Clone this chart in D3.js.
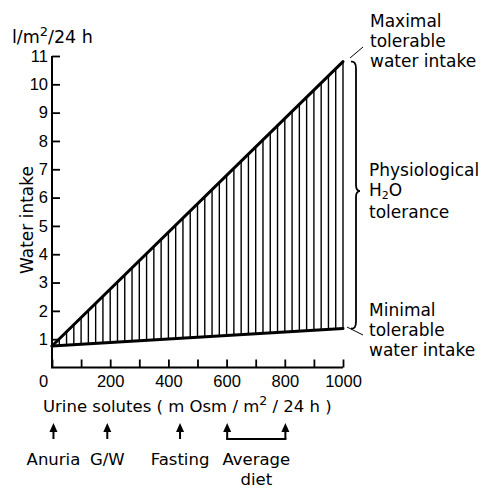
<!DOCTYPE html>
<html>
<head>
<meta charset="utf-8">
<script src="https://cdn.jsdelivr.net/npm/d3@7"></script>
<style>
  html, body { margin: 0; padding: 0; background: #fff; }
  svg { display: block; }
  text { font-family: "DejaVu Sans", sans-serif; fill: #000; }
  .tick text { font-family: "Liberation Sans", Arial, sans-serif; font-size: 16.5px; }
</style>
</head>
<body>
<svg id="chart" width="481" height="488"></svg>
<script>
// ---- data ----
const solutes = [0, 1000];              // mOsm/m²/24 h
const maxIntake = [0.76, 10.8];         // l/m²/24 h
const minIntake = [0.76, 1.38];         // l/m²/24 h
const yTicks = [1, 2, 3, 4, 5, 6, 7, 8, 9, 10, 11];
const xTicks = [0, 100, 200, 300, 400, 500, 600, 700, 800, 900, 1000];
const xTickLabels = [0, 200, 400, 600, 800, 1000];
const hatchStep = 25;                   // mOsm between hatch lines
const markerLabels = ["Anuria", "G/W", "Fasting"];
const markerValues = [5, 190, 440];
const dietRange = [602, 802];
const dietLabel = ["Average", "diet"];

// ---- scales ----
const svg = d3.select("#chart");
const x = d3.scaleLinear().domain([0, 1000]).range([52, 343]);
const y = d3.scaleLinear().domain([0, 11]).range([367.5, 56]);

const upper = d3.scaleLinear().domain(solutes).range(maxIntake);
const lower = d3.scaleLinear().domain(solutes).range(minIntake);

// ---- hatching ----
const hatchX = d3.range(hatchStep, 1000 + 0.1, hatchStep);
svg.append("g").selectAll("line").data(hatchX).join("line")
  .attr("x1", d => x(d)).attr("x2", d => x(d))
  .attr("y1", d => y(lower(d))).attr("y2", d => y(upper(d)))
  .attr("stroke", "#000").attr("stroke-width", 1.4);

// ---- boundary lines ----
const line = d3.line().x(d => x(d[0])).y(d => y(d[1]));
svg.append("path").datum(solutes.map((s, i) => [s, maxIntake[i]]))
  .attr("d", line).attr("fill", "none").attr("stroke", "#000")
  .attr("stroke-width", 3).attr("stroke-linecap", "round");
svg.append("path").datum(solutes.map((s, i) => [s, minIntake[i]]))
  .attr("d", line).attr("fill", "none").attr("stroke", "#000")
  .attr("stroke-width", 3).attr("stroke-linecap", "round");

// ---- axes ----
const yAxis = d3.axisLeft(y).tickValues(yTicks).tickSizeInner(-8).tickSizeOuter(0).tickPadding(4)
  .tickFormat(d3.format("d"));
const gy = svg.append("g").attr("transform", `translate(${x(0)},0)`).call(yAxis);
gy.select(".domain").remove();
gy.selectAll(".tick line").attr("stroke-width", 1.8);
gy.selectAll(".tick text").attr("font-size", null);
svg.append("line").attr("x1", x(0)).attr("x2", x(0)).attr("y1", y(0)).attr("y2", y(11))
  .attr("stroke", "#000").attr("stroke-width", 2);

const xAxis = d3.axisBottom(x).tickValues(xTicks).tickSizeInner(-8).tickSizeOuter(0).tickPadding(8)
  .tickFormat(d => xTickLabels.includes(d) ? d : "");
const gx = svg.append("g").attr("transform", `translate(0,${y(0)})`).call(xAxis);
gx.select(".domain").remove();
gx.selectAll(".tick line").attr("stroke-width", 1.8);
gx.selectAll(".tick text").attr("font-size", null).attr("dx", d => d === 0 ? -9 : 0);
svg.append("line").attr("x1", x(0) - 1).attr("x2", x(1000)).attr("y1", y(0)).attr("y2", y(0))
  .attr("stroke", "#000").attr("stroke-width", 2);

// ---- axis titles ----
const unit = svg.append("text").attr("x", 12).attr("y", 43).attr("font-size", 17.5);
unit.append("tspan").text("l/m");
unit.append("tspan").attr("font-size", 13).attr("dy", -7).text("2");
unit.append("tspan").attr("dy", 7).text("/24 h");

svg.append("text").attr("transform", `translate(33,${220}) rotate(-90)`)
  .attr("text-anchor", "middle").attr("font-size", 17).text("Water intake");

const xt = svg.append("text").attr("x", 43).attr("y", 412).attr("font-size", 16.5);
xt.append("tspan").text("Urine solutes ( m Osm / m");
xt.append("tspan").attr("font-size", 12.5).attr("dy", -7).text("2");
xt.append("tspan").attr("dy", 7).text(" / 24 h )");

// ---- markers under axis ----
const arrowTop = 423, arrowBot = 439;
function arrow(px) {
  svg.append("line").attr("x1", px).attr("x2", px).attr("y1", arrowTop + 6).attr("y2", arrowBot)
    .attr("stroke", "#000").attr("stroke-width", 2);
  svg.append("path")
    .attr("d", `M${px},${arrowTop} L${px - 4},${arrowTop + 9} L${px + 4},${arrowTop + 9} Z`)
    .attr("fill", "#000");
}
markerValues.forEach((v, i) => {
  arrow(x(v));
  svg.append("text").attr("x", x(v)).attr("y", 465).attr("text-anchor", "middle")
    .attr("font-size", 16.5).text(markerLabels[i]);
});
dietRange.forEach(v => arrow(x(v)));
svg.append("line").attr("x1", x(dietRange[0]) - 1).attr("x2", x(dietRange[1]) + 1)
  .attr("y1", arrowBot).attr("y2", arrowBot).attr("stroke", "#000").attr("stroke-width", 2);
const dietMid = (x(dietRange[0]) + x(dietRange[1])) / 2;
dietLabel.forEach((t, i) => {
  svg.append("text").attr("x", dietMid).attr("y", 465 + i * 20).attr("text-anchor", "middle")
    .attr("font-size", 16.5).text(t);
});

// ---- right-hand annotations ----
const topY = y(upper(1000)), botY = y(lower(1000));
const bx = x(1000) + 13, midY = (topY + botY) / 2 - 4;
svg.append("path")
  .attr("d", `M${bx - 5},${topY} Q${bx},${topY - 1} ${bx},${topY + 7} L${bx},${midY - 6} Q${bx},${midY} ${bx + 4},${midY}` +
             ` Q${bx},${midY} ${bx},${midY + 6} L${bx},${botY - 7} Q${bx},${botY + 1} ${bx - 5},${botY}`)
  .attr("fill", "none").attr("stroke", "#000").attr("stroke-width", 1.8);

svg.append("line").attr("x1", 350).attr("y1", 58).attr("x2", 363).attr("y2", 47)
  .attr("stroke", "#000").attr("stroke-width", 1);
svg.append("line").attr("x1", 347).attr("y1", 327).attr("x2", 363).attr("y2", 335)
  .attr("stroke", "#000").attr("stroke-width", 1);

function block(lines, x0, y0) {
  lines.forEach((t, i) => {
    svg.append("text").attr("x", x0).attr("y", y0 + i * 20).attr("font-size", 17).text(t);
  });
}
block(["Maximal", "tolerable", "water intake"], 370, 27);
block(["Minimal", "tolerable", "water intake"], 369, 316);
svg.append("text").attr("x", 369).attr("y", 176).attr("font-size", 17).text("Physiological");
const h2o = svg.append("text").attr("x", 369).attr("y", 196).attr("font-size", 17);
h2o.append("tspan").text("H");
h2o.append("tspan").attr("font-size", 11).attr("dy", 3).text("2");
h2o.append("tspan").attr("dy", -3).text("O");
svg.append("text").attr("x", 369).attr("y", 218).attr("font-size", 17).text("tolerance");
</script>
</body>
</html>
